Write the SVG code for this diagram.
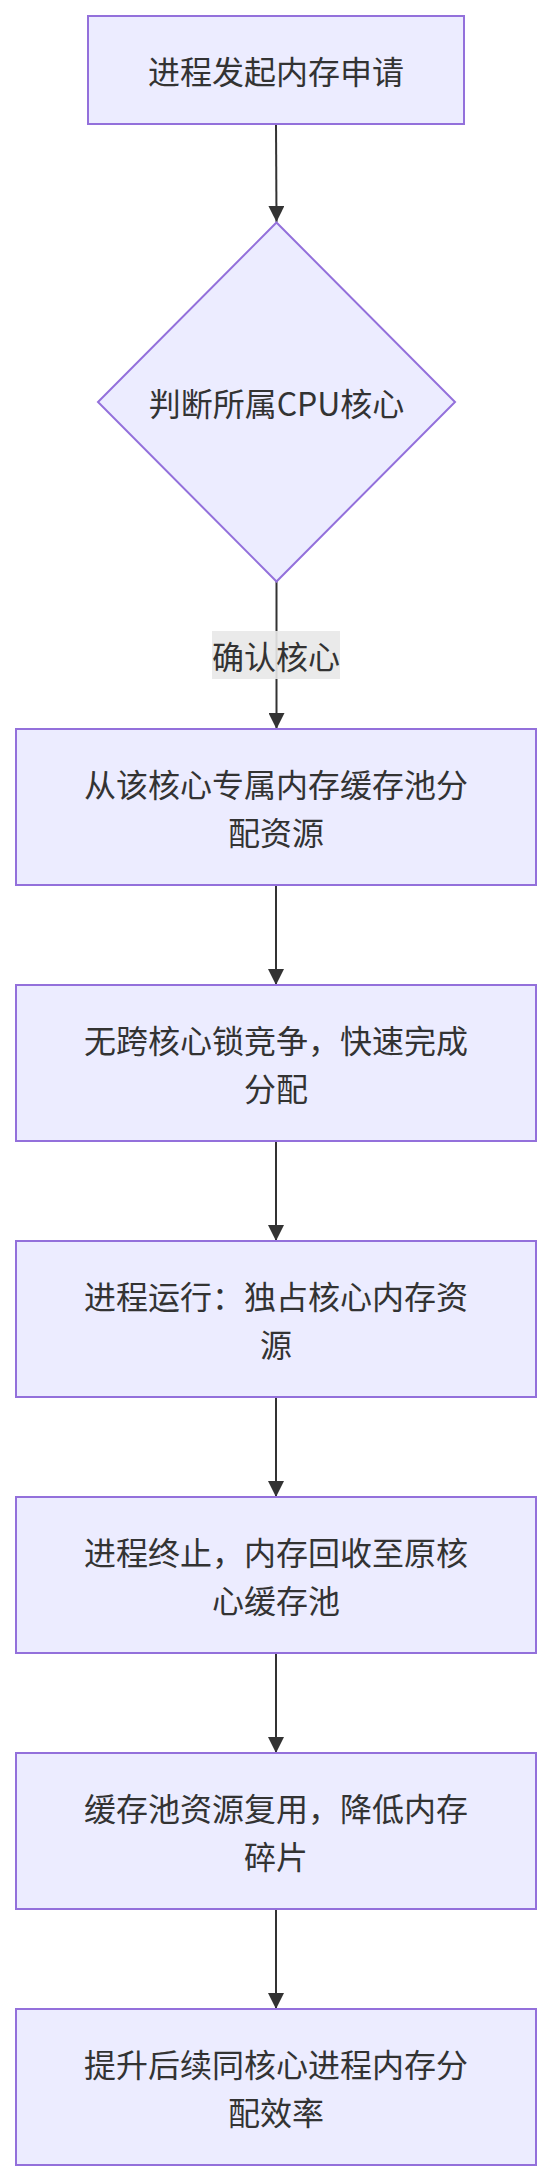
<svg xmlns="http://www.w3.org/2000/svg" width="552" height="2181" viewBox="0 0 552 2181">
<style>
.node rect, .node polygon { fill: #ECECFF; stroke: #9370DB; stroke-width: 2; }
.node text, .elabel text { font-family: "Noto Sans CJK SC", "Liberation Sans", sans-serif; font-size: 32px; fill: #333333; text-anchor: middle; dominant-baseline: central; }
.edge { stroke: #333333; stroke-width: 2; fill: none; marker-end: url(#arrow); }
.elabel rect { fill: #e8e8e8; opacity: 0.9; }
</style>
<defs>
<marker id="arrow" viewBox="0 0 10 10" refX="10" refY="5" markerUnits="userSpaceOnUse" markerWidth="16" markerHeight="16" orient="auto">
<path d="M0,0 L10,5 L0,10 z" fill="#333333"/>
</marker>
</defs>
<rect width="552" height="2181" fill="#ffffff"/>
<g id="connectors">
<path class="edge" d="M276,124 L276.5,222"/>
<path class="edge" d="M276.5,581 L276.5,729"/>
<path class="edge" d="M276,885 L276,985"/>
<path class="edge" d="M276,1141 L276,1241"/>
<path class="edge" d="M276,1397 L276,1497"/>
<path class="edge" d="M276,1653 L276,1753"/>
<path class="edge" d="M276,1909 L276,2009"/>
</g>
<g id="edge-label" class="elabel">
<rect x="212" y="631" width="128" height="48"/>
<text x="276" y="655">确认核心</text>
</g>
<g id="n1" class="node">
<rect x="88" y="16" width="376" height="108"/>
<text x="276" y="70">进程发起内存申请</text>
</g>
<g id="n2" class="node">
<polygon points="276.5,222.5 455,402 276.5,581.5 98,402"/>
<text x="276.5" y="402">判断所属CPU核心</text>
</g>
<g id="n3" class="node">
<rect x="16" y="729" width="520" height="156"/>
<text x="276" y="783">从该核心专属内存缓存池分</text>
<text x="276" y="831">配资源</text>
</g>
<g id="n4" class="node">
<rect x="16" y="985" width="520" height="156"/>
<text x="276" y="1039">无跨核心锁竞争，快速完成</text>
<text x="276" y="1087">分配</text>
</g>
<g id="n5" class="node">
<rect x="16" y="1241" width="520" height="156"/>
<text x="276" y="1295">进程运行：独占核心内存资</text>
<text x="276" y="1343">源</text>
</g>
<g id="n6" class="node">
<rect x="16" y="1497" width="520" height="156"/>
<text x="276" y="1551">进程终止，内存回收至原核</text>
<text x="276" y="1599">心缓存池</text>
</g>
<g id="n7" class="node">
<rect x="16" y="1753" width="520" height="156"/>
<text x="276" y="1807">缓存池资源复用，降低内存</text>
<text x="276" y="1855">碎片</text>
</g>
<g id="n8" class="node">
<rect x="16" y="2009" width="520" height="156"/>
<text x="276" y="2063">提升后续同核心进程内存分</text>
<text x="276" y="2111">配效率</text>
</g>
</svg>
